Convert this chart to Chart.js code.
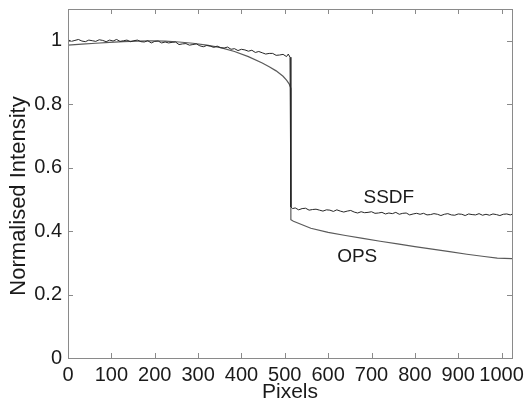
<!DOCTYPE html>
<html>
<head>
<meta charset="utf-8">
<script src="https://cdn.jsdelivr.net/npm/chart.js@4"></script>
<style>
  body { margin: 0; background: #fff; }
  canvas { display: block; }
</style>
</head>
<body>
<canvas id="chart-1" width="525" height="402"></canvas>
<script>
const ssdfPixels = [
  0, 8, 16, 24, 32, 40, 48, 56, 64, 72, 80, 88, 96, 104, 112, 120, 128, 136, 144, 152,
  160, 168, 176, 184, 192, 200, 208, 216, 224, 232, 240, 248, 256, 264, 272, 280, 288,
  296, 304, 312, 320, 328, 336, 344, 352, 360, 368, 376, 384, 392, 400, 408, 416, 424,
  432, 440, 448, 456, 464, 472, 480, 488, 496, 504, 508, 512, 514,
  514, 518, 524, 532, 540, 548, 556, 564, 572, 580, 588, 596, 604, 612, 620, 628, 636,
  644, 652, 660, 668, 676, 684, 692, 700, 708, 716, 724, 732, 740, 748, 756, 764, 772,
  780, 788, 796, 804, 812, 820, 828, 836, 844, 852, 860, 868, 876, 884, 892, 900, 908,
  916, 924, 932, 940, 948, 956, 964, 972, 980, 988, 996, 1004, 1012, 1020, 1024,
];
const ssdfValues = [
  1.003, 0.998, 1.001, 1.004, 0.999, 0.997, 1.002, 1.000, 0.998, 1.003, 1.001, 0.997,
  1.002, 0.999, 1.004, 0.998, 1.000, 1.002, 0.997, 1.000, 1.002, 0.997, 0.996, 1.000,
  0.993, 0.998, 0.999, 0.993, 0.996, 0.993, 0.995, 0.996, 0.988, 0.990, 0.991, 0.986,
  0.988, 0.990, 0.984, 0.981, 0.985, 0.983, 0.979, 0.983, 0.978, 0.977, 0.980, 0.973,
  0.975, 0.969, 0.973, 0.971, 0.967, 0.970, 0.963, 0.966, 0.962, 0.958, 0.960, 0.960,
  0.954, 0.955, 0.957, 0.950, 0.958, 0.948, 0.935,
  0.476, 0.471, 0.473, 0.467, 0.471, 0.472, 0.466, 0.468, 0.469, 0.466, 0.463, 0.467,
  0.466, 0.462, 0.467, 0.463, 0.460, 0.463, 0.465, 0.460, 0.457, 0.461, 0.458, 0.459,
  0.461, 0.456, 0.457, 0.459, 0.454, 0.457, 0.455, 0.459, 0.453, 0.456, 0.457, 0.451,
  0.454, 0.456, 0.453, 0.456, 0.451, 0.452, 0.455, 0.453, 0.449, 0.453, 0.455, 0.451,
  0.450, 0.454, 0.453, 0.449, 0.454, 0.452, 0.451, 0.455, 0.450, 0.453, 0.450, 0.454,
  0.452, 0.449, 0.453, 0.454, 0.451, 0.453,
];

const opsPixels = [
  0, 32, 64, 96, 128, 160, 192, 224, 256, 288, 320, 352, 384, 416, 448, 464, 480,
  496, 504, 510, 514, 514, 520, 560, 600, 640, 680, 720, 760, 800, 840, 880, 920,
  960, 990, 1024,
];
const opsValues = [
  0.986, 0.989, 0.992, 0.995, 0.997, 0.999, 1.000, 0.999, 0.996, 0.992, 0.986, 0.978,
  0.966, 0.950, 0.930, 0.918, 0.905, 0.888, 0.876, 0.864, 0.850, 0.436, 0.431, 0.409,
  0.396, 0.386, 0.377, 0.368, 0.360, 0.351, 0.343, 0.335, 0.327, 0.320, 0.315, 0.313,
];

const xTickValues = [0, 100, 200, 300, 400, 500, 600, 700, 800, 900, 1000];
const yTickValues = [0, 0.2, 0.4, 0.6, 0.8, 1];

const toPoints = (xs, ys) => xs.map((x, i) => ({ x: x, y: ys[i] }));

const fontFamily = "'Liberation Sans', Arial, sans-serif";
const textColor = "#1a1a1a";

// MATLAB style box with inward ticks on every side, the y title and the curve labels
const boxPlugin = {
  id: "box",
  afterDraw(chart) {
    const { ctx, chartArea: a, scales } = chart;
    ctx.save();
    ctx.strokeStyle = "#8a8a8a";
    ctx.lineWidth = 1;
    ctx.strokeRect(a.left + 0.5, a.top + 0.5, a.right - a.left, a.bottom - a.top);
    ctx.beginPath();
    xTickValues.forEach((v) => {
      const px = Math.round(scales.x.getPixelForValue(v)) + 0.5;
      ctx.moveTo(px, a.bottom);
      ctx.lineTo(px, a.bottom - 5);
      ctx.moveTo(px, a.top);
      ctx.lineTo(px, a.top + 5);
    });
    yTickValues.forEach((v) => {
      const py = Math.round(scales.y.getPixelForValue(v)) + 0.5;
      ctx.moveTo(a.left, py);
      ctx.lineTo(a.left + 5, py);
      ctx.moveTo(a.right, py);
      ctx.lineTo(a.right - 5, py);
    });
    ctx.stroke();

    ctx.fillStyle = textColor;
    ctx.textAlign = "center";
    ctx.textBaseline = "middle";
    ctx.font = "19px " + fontFamily;
    ctx.fillText("SSDF", scales.x.getPixelForValue(740), scales.y.getPixelForValue(0.505));
    ctx.fillText("OPS", scales.x.getPixelForValue(667), scales.y.getPixelForValue(0.318));

    ctx.translate(19, 196);
    ctx.rotate(-Math.PI / 2);
    ctx.font = "22px " + fontFamily;
    ctx.fillText("Normalised Intensity", 0, 0);
    ctx.restore();
  },
};

const config = {
  type: "line",
  data: {
    datasets: [
      {
        label: "SSDF",
        data: toPoints(ssdfPixels, ssdfValues),
        borderColor: "#262626",
        borderWidth: 1,
        pointRadius: 0,
        tension: 0,
      },
      {
        label: "OPS",
        data: toPoints(opsPixels, opsValues),
        borderColor: "#5a5a5a",
        borderWidth: 1.2,
        pointRadius: 0,
        tension: 0,
      },
    ],
  },
  options: {
    responsive: false,
    animation: false,
    devicePixelRatio: 1,
    layout: {
      padding: { left: 0, right: 13, top: 9, bottom: 0 },
    },
    scales: {
      x: {
        type: "linear",
        min: 0,
        max: 1024,
        grid: { display: false, drawTicks: false, tickLength: 0 },
        border: { display: false },
        afterFit: (scale) => {
          scale.height = 44;
          scale.paddingLeft = 0;
          scale.paddingRight = 0;
        },
        afterBuildTicks: (scale) => {
          scale.ticks = xTickValues.map((v) => ({ value: v }));
        },
        ticks: {
          autoSkip: false,
          maxRotation: 0,
          padding: 5,
          color: textColor,
          font: { family: fontFamily, size: 20 },
          callback: (v) => String(v),
        },
        title: {
          display: true,
          text: "Pixels",
          color: textColor,
          padding: { top: -5, bottom: -3 },
          font: { family: fontFamily, size: 21 },
        },
      },
      y: {
        min: 0,
        max: 1.1,
        grid: { display: false, drawTicks: false, tickLength: 0 },
        border: { display: false },
        afterFit: (scale) => {
          scale.width = 68;
          scale.paddingTop = 0;
          scale.paddingBottom = 0;
        },
        afterBuildTicks: (scale) => {
          scale.ticks = yTickValues.map((v) => ({ value: v }));
        },
        ticks: {
          padding: 6,
          color: textColor,
          font: { family: fontFamily, size: 20 },
          callback: (v) => String(Math.round(v * 10) / 10),
        },
      },
    },
    plugins: {
      legend: { display: false },
      tooltip: { enabled: false },
    },
  },
  plugins: [boxPlugin],
};

const chart1 = new Chart(document.getElementById("chart-1"), config);
</script>
</body>
</html>
